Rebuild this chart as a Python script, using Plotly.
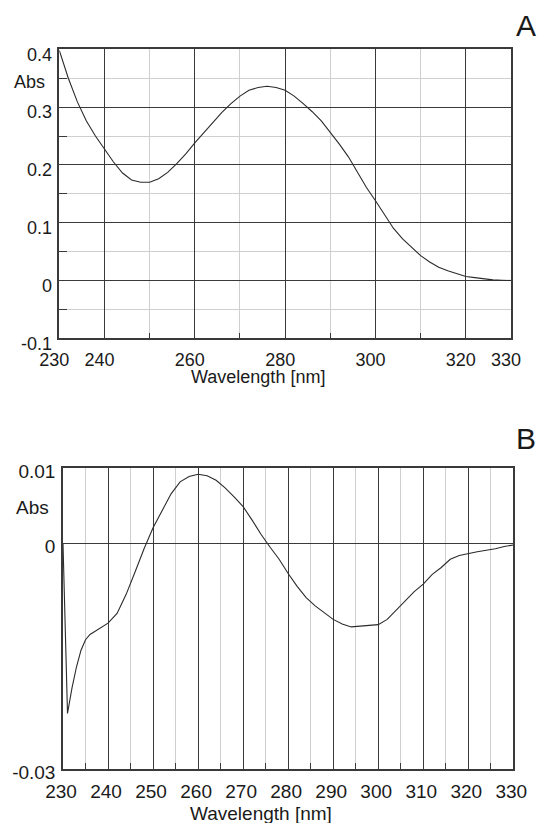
import plotly.graph_objects as go

W, H = 539, 823

# ---- Panel A: absorbance spectrum ----
wl_a = [230, 232, 234, 236, 238, 240, 242, 244, 246, 248, 250, 252, 254, 256, 258,
        260, 262, 264, 266, 268, 270, 272, 274, 276, 278, 280, 282, 284, 286, 288,
        290, 292, 294, 296, 298, 300, 302, 304, 306, 308, 310, 312, 314, 316, 318,
        320, 322, 324, 326, 328, 330]
abs_a = [0.398, 0.350, 0.309, 0.276, 0.250, 0.227, 0.205, 0.186, 0.174, 0.170, 0.170,
         0.176, 0.187, 0.202, 0.219, 0.238, 0.256, 0.274, 0.291, 0.306, 0.319, 0.329,
         0.334, 0.336, 0.334, 0.329, 0.319, 0.306, 0.292, 0.276, 0.257, 0.236, 0.214,
         0.187, 0.161, 0.138, 0.113, 0.090, 0.072, 0.057, 0.043, 0.032, 0.023, 0.017,
         0.012, 0.007, 0.005, 0.003, 0.001, 0.0005, 0.0]

# ---- Panel B: derivative / difference spectrum ----
wl_b = [230, 231, 232, 233, 234, 235, 236, 237, 238, 240, 242, 244, 246, 248, 250,
        252, 254, 256, 258, 260, 262, 264, 266, 268, 270, 272, 274, 276, 278, 280,
        282, 284, 286, 288, 290, 292, 294, 296, 298, 300, 302, 304, 306, 308, 310,
        312, 314, 316, 318, 320, 322, 324, 326, 328, 330]
abs_b = [0.0, -0.0226, -0.0192, -0.0164, -0.0142, -0.0128, -0.0121, -0.0117, -0.0113,
         -0.0106, -0.0093, -0.0068, -0.0038, -0.0007, 0.0021, 0.0043, 0.0066, 0.0082,
         0.0089, 0.0092, 0.0090, 0.0084, 0.0074, 0.0062, 0.0049, 0.0031, 0.0012,
         -0.0005, -0.0021, -0.0040, -0.0057, -0.0072, -0.0083, -0.0092, -0.0101,
         -0.0107, -0.0111, -0.0110, -0.0109, -0.0108, -0.0101, -0.0089, -0.0077,
         -0.0064, -0.0054, -0.0041, -0.0032, -0.0021, -0.0016, -0.0013, -0.0011,
         -0.0009, -0.0007, -0.0004, -0.0002]

# tick definitions
xa_major = [230, 240, 260, 280, 300, 320, 330]
xa_minor = [250, 270, 290, 310]
ya_major = [-0.1, 0, 0.1, 0.2, 0.3, 0.4]
ya_labels = ["-0.1", "0", "0.1", "0.2", "0.3", "0.4"]
ya_minor = [-0.05, 0.05, 0.15, 0.25, 0.35]
xb_major = [230, 240, 250, 260, 270, 280, 290, 300, 310, 320, 330]
xb_minor = [235, 245, 255, 265, 275, 285, 295, 305, 315, 325]
yb_major = [-0.03, 0, 0.01]
yb_labels = ["-0.03", "0", "0.01"]

FONT = "Liberation Sans, Arial, sans-serif"
DARK = "#3a3a3a"
LIGHT = "#cfcfcf"
TXT = "#1a1a1a"


def px(x):
    return x / W


def py(y):
    return 1 - y / H


fig = go.Figure()
fig.add_trace(go.Scatter(x=wl_a, y=abs_a, xaxis="x", yaxis="y", mode="lines",
                         line=dict(color="#2b2b2b", width=1.1), showlegend=False,
                         hoverinfo="skip"))
fig.add_trace(go.Scatter(x=wl_b, y=abs_b, xaxis="x2", yaxis="y2", mode="lines",
                         line=dict(color="#2b2b2b", width=1.1), showlegend=False,
                         hoverinfo="skip"))

common = dict(showline=True, linecolor=DARK, linewidth=1.5, mirror=True,
              zeroline=False, gridcolor=DARK, gridwidth=1.2, automargin=False,
              ticks="inside", ticklen=6, tickcolor=DARK, tickwidth=1.2)

fig.update_layout(
    width=W, height=H,
    margin=dict(l=0, r=0, t=0, b=0),
    paper_bgcolor="white", plot_bgcolor="white",
    xaxis=dict(domain=[px(59.3), px(511)], anchor="y", range=[230, 330],
               tickmode="array", tickvals=xa_major,
               ticktext=[str(v) for v in xa_major],
               minor=dict(tickvals=xa_minor, showgrid=True, gridcolor=LIGHT,
                          gridwidth=1.2, ticks="inside", ticklen=6, tickcolor=DARK),
               ticklabelstandoff=4, ticklabelshift=-5,
               tickfont=dict(family=FONT, color=TXT, size=18), **common),
    yaxis=dict(domain=[py(338.3), py(49.3)], anchor="x", range=[-0.1, 0.4],
               tickmode="array", tickvals=ya_major, ticktext=ya_labels,
               minor=dict(tickvals=ya_minor, showgrid=True, gridcolor=LIGHT,
                          gridwidth=1.2, ticks="inside", ticklen=8, tickcolor=DARK),
               ticklabelstandoff=2, ticklabelshift=5,
               tickfont=dict(family=FONT, color=TXT, size=18), **common),
    xaxis2=dict(domain=[px(63), px(513.3)], anchor="y2", range=[230, 330],
                tickmode="array", tickvals=xb_major,
                ticktext=[str(v) for v in xb_major],
                minor=dict(tickvals=xb_minor, showgrid=True, gridcolor=LIGHT,
                           gridwidth=1.2, ticks="inside", ticklen=6, tickcolor=DARK),
                ticklabelstandoff=4, ticklabelshift=-2,
                tickfont=dict(family=FONT, color=TXT, size=19), **common),
    yaxis2=dict(domain=[py(769), py(468.3)], anchor="x2", range=[-0.03, 0.01],
                tickmode="array", tickvals=yb_major, ticktext=yb_labels,
                ticklabelstandoff=2, ticklabelshift=3,
                tickfont=dict(family=FONT, color=TXT, size=19), **common),
)

ann = [
    dict(text="A", x=px(526), y=py(25), size=30),
    dict(text="B", x=px(526), y=py(438), size=30),
    dict(text="Abs", x=px(29), y=py(82), size=18),
    dict(text="Abs", x=px(32), y=py(507), size=19),
    dict(text="Wavelength [nm]", x=px(258), y=py(377), size=18),
    dict(text="Wavelength [nm]", x=px(261), y=py(813), size=19),
]
for a in ann:
    fig.add_annotation(text=a["text"], x=a["x"], y=a["y"], xref="paper", yref="paper",
                       xanchor="center", yanchor="middle", showarrow=False,
                       font=dict(family=FONT, size=a["size"], color=TXT))

# remove the default 8px page margin so the 539x823 figure fills the window exactly
fig.write_html("out.html",
               config={"displayModeBar": False},
               post_script="document.body.style.margin='0px';"
                           "document.body.style.overflow='hidden';")
